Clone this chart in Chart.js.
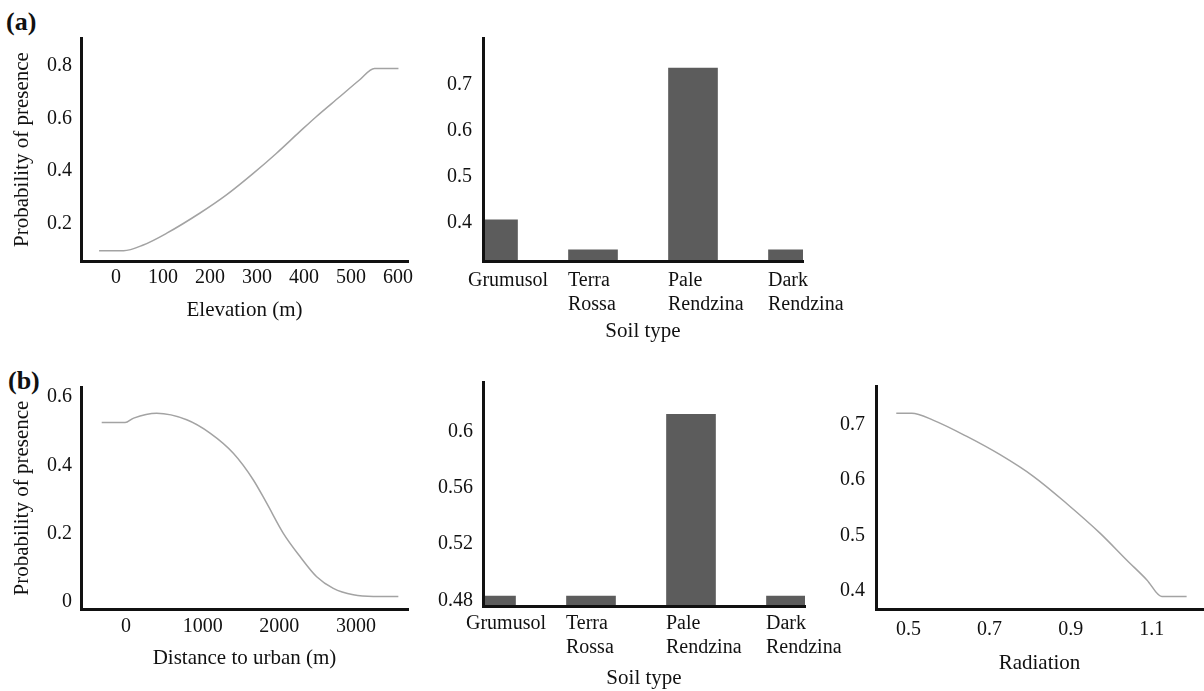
<!DOCTYPE html>
<html>
<head>
<meta charset="utf-8">
<script src="https://cdn.jsdelivr.net/npm/chart.js@4"></script>
<style>
  body { margin: 0; background: #fff; width: 1204px; height: 691px; position: relative; overflow: hidden; }
  canvas { position: absolute; }
  .tag { position: absolute; font: bold 26px/30px "Liberation Serif", "Times New Roman", serif; color: #111; }
</style>
</head>
<body>
<div class="tag" style="left:6px;top:7px">(a)</div>
<div class="tag" style="left:8px;top:366px">(b)</div>
<canvas id="elevChart"></canvas>
<canvas id="soilChartA"></canvas>
<canvas id="urbanChart"></canvas>
<canvas id="soilChartB"></canvas>
<canvas id="radChart"></canvas>
<script>
// (a) response to elevation
const elevX = [-36, 16, 58, 108, 178, 235, 292, 341, 391, 426, 476, 518, 550, 601];
const elevP = [0.096, 0.096, 0.118, 0.163, 0.239, 0.309, 0.391, 0.467, 0.550, 0.607, 0.683, 0.747, 0.791, 0.791];
const elevTicks = [0, 100, 200, 300, 400, 500, 600];
const probTicksA = [0.2, 0.4, 0.6, 0.8];

// soil types (shared by both bar panels)
const soilTypes = ['Grumusol', ['Terra', 'Rossa'], ['Pale', 'Rendzina'], ['Dark', 'Rendzina']];
const soilA = [0.407, 0.342, 0.736, 0.342];
const soilTicksA = [0.4, 0.5, 0.6, 0.7];

// (b) response to distance to urban
const urbanX = [-317, -13, 100, 400, 791, 1096, 1400, 1661, 1835, 2052, 2270, 2487, 2704, 2965, 3226, 3552];
const urbanP = [0.525, 0.525, 0.538, 0.552, 0.533, 0.494, 0.435, 0.357, 0.289, 0.201, 0.133, 0.074, 0.040, 0.021, 0.016, 0.016];
const urbanTicks = [0, 1000, 2000, 3000];
const probTicksB = [0, 0.2, 0.4, 0.6];

const soilB = [0.483, 0.483, 0.612, 0.483];
const soilTicksB = [0.48, 0.52, 0.56, 0.6];

// (b) response to radiation
const radX = [0.470, 0.508, 0.562, 0.644, 0.726, 0.808, 0.890, 0.973, 1.038, 1.088, 1.125, 1.186];
const radP = [0.721, 0.721, 0.708, 0.679, 0.646, 0.607, 0.558, 0.504, 0.456, 0.420, 0.390, 0.390];
const radTicks = [0.5, 0.7, 0.9, 1.1];
const radProbTicks = [0.4, 0.5, 0.6, 0.7];

const ink = '#111';
const serif = '"Liberation Serif", "Times New Roman", serif';
const fmt = (v) => String(+Number(v).toFixed(3));

// one axis; size fixes the axis box so the plot area lands where we want it
function axis(s, size, horizontal) {
    return {
        type: 'linear',
        min: s.min,
        max: s.max,
        offset: false,
        grid: { display: false, drawTicks: false, offset: false },
        border: { display: true, color: ink, width: 3, z: 1 },
        afterBuildTicks: (sc) => { sc.ticks = s.ticks.map((v) => ({ value: v })); },
        afterFit: (sc) => {
            if (horizontal) sc.height = size; else sc.width = size;
            sc.paddingLeft = sc.paddingRight = sc.paddingTop = sc.paddingBottom = 0;
        },
        ticks: {
            padding: s.pad, color: ink, autoSkip: false, maxRotation: 0,
            align: s.align || 'center',
            font: { family: serif, size: 20 },
            callback: s.label || fmt
        },
        title: {
            display: !!s.title, text: s.title, color: ink, padding: 0,
            font: { family: serif, size: 21 }
        }
    };
}

// box = canvas [left, top, w, h], area = plot [left, top, right, bottom]
function panel(id, box, area, yW, xH, type, datasets, xs, ys) {
    const c = document.getElementById(id);
    c.style.left = box[0] + 'px';
    c.style.top = box[1] + 'px';
    c.width = box[2];
    c.height = box[3];
    new Chart(c, {
        type: type,
        data: { datasets: datasets },
        options: {
            responsive: false,
            animation: false,
            events: [],
            devicePixelRatio: 1,
            layout: {
                padding: {
                    left: area[0] - box[0] - yW,
                    top: area[1] - box[1],
                    right: box[0] + box[2] - area[2],
                    bottom: box[1] + box[3] - area[3] - xH
                }
            },
            plugins: { legend: { display: false }, tooltip: { enabled: false } },
            scales: { x: axis(xs, xH, true), y: axis(ys, yW, false) }
        }
    });
}

const curve = (xs, ys) => [{
    data: xs.map((x, i) => ({ x: x, y: ys[i] })),
    borderColor: '#a3a3a3',
    borderWidth: 1.5,
    pointRadius: 0,
    tension: 0.4,
    cubicInterpolationMode: 'monotone',
    fill: false
}];

const bars = (vals) => [{
    data: vals.map((v, i) => ({ x: i, y: v })),
    backgroundColor: '#5c5c5c',
    borderWidth: 0,
    barThickness: 49,
    clip: 0
}];

// soil labels sit left-aligned from the bar's left edge, like the original
const soilTickPos = soilTypes.map((t, i) => i - 0.25);
const soilLabel = (v) => soilTypes[Math.round(v + 0.25)];

panel('elevChart', [0, 0, 420, 345], [81, 38, 408, 261], 71, 62, 'line', curve(elevX, elevP),
    { min: -74.5, max: 621.3, ticks: elevTicks, pad: 5, title: 'Elevation (m)' },
    { min: 0.057, max: 0.907, ticks: probTicksA, pad: 9, title: 'Probability of presence' });

panel('soilChartA', [420, 0, 480, 345], [483, 38, 803, 261], 55, 83, 'bar', bars(soilA),
    { min: -0.1, max: 3.1, ticks: soilTickPos, pad: 8, title: 'Soil type', label: soilLabel, align: 'start' },
    { min: 0.318, max: 0.801, ticks: soilTicksA, pad: 11 });

panel('urbanChart', [0, 345, 420, 346], [81, 387, 408, 609], 71, 62, 'line', curve(urbanX, urbanP),
    { min: -587, max: 3678, ticks: urbanTicks, pad: 6, title: 'Distance to urban (m)' },
    { min: -0.0205, max: 0.629, ticks: probTicksB, pad: 9, title: 'Probability of presence' });

panel('soilChartB', [420, 345, 440, 346], [483, 382, 805, 606], 55, 85, 'bar', bars(soilB),
    { min: -0.08, max: 3.14, ticks: soilTickPos, pad: 6, title: 'Soil type', label: soilLabel, align: 'start' },
    { min: 0.476, max: 0.635, ticks: soilTicksB, pad: 10 });

panel('radChart', [835, 345, 369, 346], [876, 386, 1203, 609], 40, 67, 'line', curve(radX, radP),
    { min: 0.420, max: 1.2264, ticks: radTicks, pad: 9, title: 'Radiation' },
    { min: 0.3675, max: 0.770, ticks: radProbTicks, pad: 11 });
</script>
</body>
</html>
